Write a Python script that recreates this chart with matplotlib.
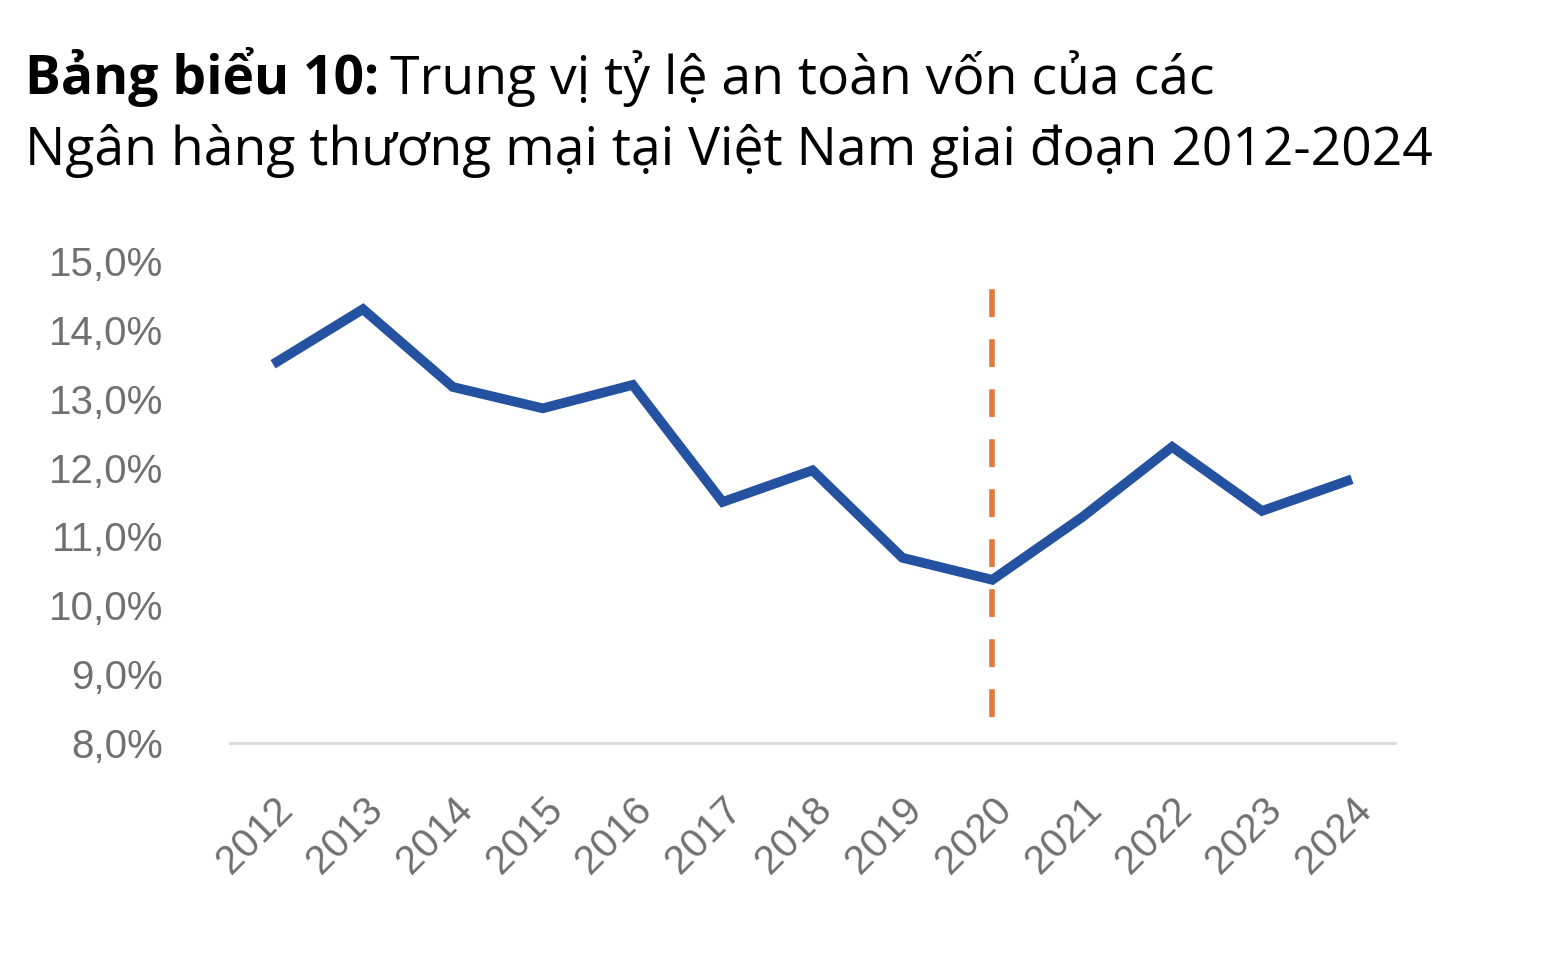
import matplotlib
matplotlib.use("Agg")
import matplotlib.pyplot as plt

years = ["2012","2013","2014","2015","2016","2017","2018","2019","2020","2021","2022","2023","2024"]
values = [13.5, 14.3, 13.17, 12.86, 13.2, 11.5, 11.96, 10.69, 10.37, 11.28, 12.3, 11.37, 11.83]
yticks = [8, 9, 10, 11, 12, 13, 14, 15]
marker_year_index = 8

plt.rcParams['font.family'] = ['Open Sans', 'DejaVu Sans']
fig = plt.figure(figsize=(15.64, 9.58), dpi=100)
ax = fig.add_axes([0.147, 0.2244, 0.745, 0.5032])
x = list(range(len(years)))
ax.plot(x, values, color="#2451a0", lw=7, solid_capstyle="butt", solid_joinstyle="miter")
ax.plot([marker_year_index, marker_year_index], [8.38, 14.75], color="#e07b3f", lw=4, ls=(0, (5, 4)))
ax.set_xlim(-0.48, 12.48)
ax.set_ylim(8, 15)
ax.set_yticks(yticks)
ax.set_yticklabels([f"{v},0%" for v in yticks], fontsize=29, color="#707070", family="Liberation Sans")
ax.set_xticks(x)
ax.set_xticklabels(years, rotation=45, ha="right", rotation_mode="anchor", fontsize=29, color="#707070", family="Liberation Sans")
ax.tick_params(length=0)
ax.tick_params(axis="y", pad=48)
ax.tick_params(axis="x", pad=34)
for s in ["top", "right", "left"]:
    ax.spines[s].set_visible(False)
ax.spines["bottom"].set_color("#d9d9d9")
ax.spines["bottom"].set_linewidth(2)

fs = 38.5
t1 = fig.text(0.016, 0.902, "Bảng biểu 10:", fontsize=fs, fontweight="bold", va="baseline")
fig.canvas.draw()
bb = t1.get_window_extent()
fig.text(bb.x1 / fig.bbox.width + 0.007, 0.902, "Trung vị tỷ lệ an toàn vốn của các", fontsize=fs, va="baseline")
fig.text(0.016, 0.828, "Ngân hàng thương mại tại Việt Nam giai đoạn 2012-2024", fontsize=fs, va="baseline")
fig.savefig("out.png", dpi=100)
